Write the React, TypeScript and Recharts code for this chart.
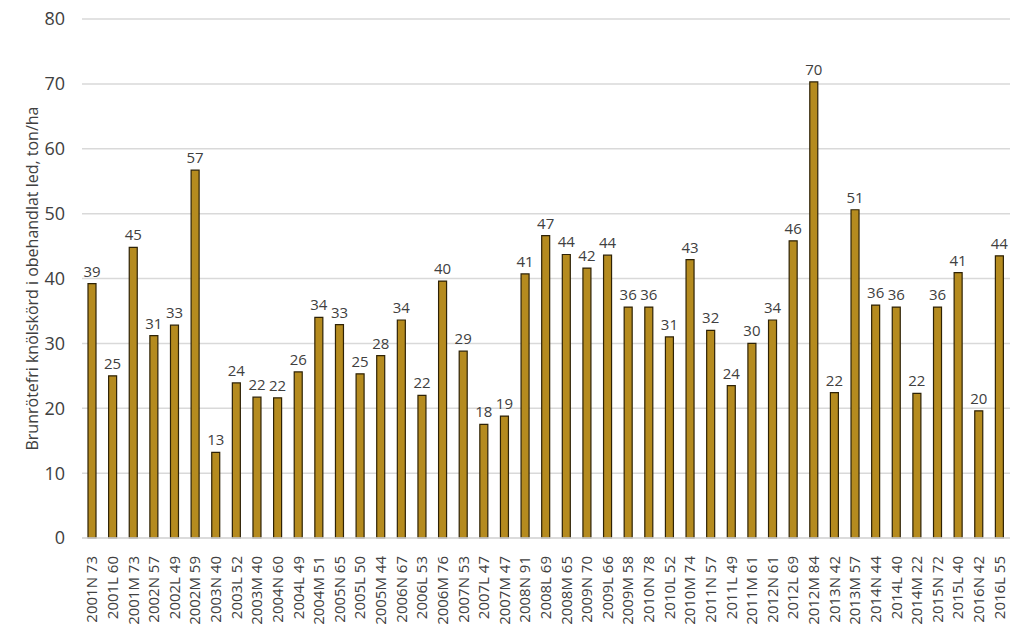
import React from "react";
import { BarChart, Bar, XAxis, YAxis, CartesianGrid, LabelList } from "recharts";

// Trial labels (year + site + number) along the x axis
const trials = [
  "2001N 73", "2001L 60", "2001M 73", "2002N 57", "2002L 49", "2002M 59",
  "2003N 40", "2003L 52", "2003M 40", "2004N 60", "2004L 49", "2004M 51",
  "2005N 65", "2005L 50", "2005M 44", "2006N 67", "2006L 53", "2006M 76",
  "2007N 53", "2007L 47", "2007M 47", "2008N 91", "2008L 69", "2008M 65",
  "2009N 70", "2009L 66", "2009M 58", "2010N 78", "2010L 52", "2010M 74",
  "2011N 57", "2011L 49", "2011M 61", "2012N 61", "2012L 69", "2012M 84",
  "2013N 42", "2013M 57", "2014N 44", "2014L 40", "2014M 22", "2015N 72",
  "2015L 40", "2016N 42", "2016L 55",
];

// Yield in untreated plots, ton/ha
const yields = [
  39.2, 25.0, 44.8, 31.2, 32.8, 56.7,
  13.2, 23.9, 21.7, 21.6, 25.6, 34.0,
  32.9, 25.3, 28.1, 33.6, 22.0, 39.6,
  28.8, 17.5, 18.8, 40.7, 46.6, 43.7,
  41.6, 43.6, 35.6, 35.6, 31.0, 42.9,
  32.0, 23.5, 30.0, 33.6, 45.8, 70.3,
  22.4, 50.6, 35.9, 35.6, 22.3, 35.6,
  40.9, 19.6, 43.5,
];

const yTicks = [0, 10, 20, 30, 40, 50, 60, 70, 80];

const FONT = "'Open Sans', sans-serif";
const TEXT = "#404040";

const data = trials.map((name, i) => ({ name, value: yields[i] }));

function TrialTick({ x, y, payload }: any) {
  return (
    <text
      x={x}
      y={y}
      transform={`rotate(-90, ${x}, ${y})`}
      dx={-10}
      dy={5}
      textAnchor="end"
      fill={TEXT}
      fontSize={15}
      fontFamily={FONT}
    >
      {payload.value}
    </text>
  );
}

export default function App() {
  return (
    <div style={{ position: "absolute", left: 0, top: 0, background: "#fff" }}>
      <BarChart
        width={1024}
        height={628}
        data={data}
        margin={{ top: 19, right: 14, bottom: 0, left: 0 }}
      >
        <CartesianGrid vertical={false} stroke="#d9d9d9" strokeWidth={1.5} />
        <XAxis
          dataKey="name"
          interval={0}
          height={90}
          axisLine={{ stroke: "#d9d9d9", strokeWidth: 1.5 }}
          tickLine={false}
          tick={<TrialTick />}
        />
        <YAxis
          width={82}
          domain={[0, 80]}
          ticks={yTicks}
          axisLine={false}
          tickLine={false}
          tickMargin={11}
          tick={{ fill: TEXT, fontSize: 18, fontFamily: FONT }}
          label={{
            value: "Brunrötefri knölskörd i obehandlat led, ton/ha",
            angle: -90,
            position: "insideLeft",
            dx: 27,
            dy: 0,
            style: { textAnchor: "middle", fill: TEXT, fontSize: 16, fontFamily: FONT },
          }}
        />
        <Bar
          dataKey="value"
          barSize={8}
          fill="#B58B1F"
          stroke="#2e2206"
          strokeWidth={1.2}
          isAnimationActive={false}
        >
          <LabelList
            dataKey="value"
            position="top"
            offset={7}
            formatter={(v: any) => Math.round(Number(v))}
            style={{ fill: TEXT, fontSize: 15, fontFamily: FONT }}
          />
        </Bar>
      </BarChart>
    </div>
  );
}
